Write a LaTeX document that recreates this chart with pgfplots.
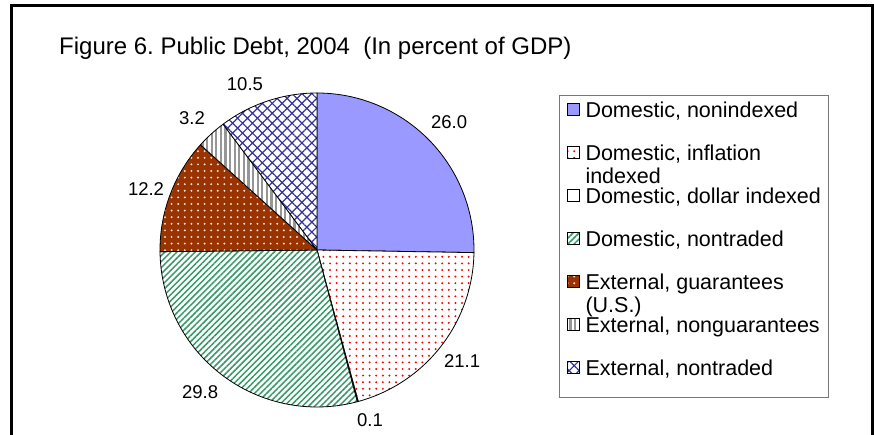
\documentclass[border=0pt]{standalone}
\usepackage{pgfplots}
\pgfplotsset{compat=1.18}
\usepackage{pgfplotstable}
\usetikzlibrary{patterns.meta}
\usepackage{fontspec}
\setmainfont{Liberation Sans}
\frenchspacing
\definecolor{cA}{HTML}{9999FF}
\definecolor{cRed}{HTML}{FF0000}
\definecolor{cGreen}{HTML}{339966}
\definecolor{cBrown}{HTML}{993300}
\definecolor{cGray}{HTML}{969696}
\definecolor{cBlue}{HTML}{333399}
\tikzset{
 w0/.style={fill=cA},
 w1/.style={fill=white, postaction={pattern={Dots[distance=6.6bp, radius=1.1bp]}, pattern color=cRed}},
 w2/.style={fill=white},
 w3/.style={fill=white, postaction={pattern={Lines[angle=45, distance=4.3bp, line width=1.5bp]}, pattern color=cGreen}},
 w4/.style={fill=cBrown, postaction={pattern={Dots[distance=6.6bp, radius=1.1bp]}, pattern color=white!85!cBrown}},
 w5/.style={fill=white, postaction={pattern={Lines[angle=90, distance=4.6bp, line width=2.2bp]}, pattern color=cGray}},
 w6/.style={fill=white, postaction={pattern={Hatch[angle=45, distance=7bp, line width=1.2bp]}, pattern color=cBlue}},
}
\newcommand\legimg[1]{\addlegendimage{legend image code/.code={\path (0bp,0bp) (23bp,0bp); \fill[#1] (5bp,2bp) rectangle (17bp,14bp); \draw[line width=0.6bp] (5bp,2bp) rectangle (17bp,14bp);}}}
\newcommand\legtxt[1]{\makebox[241bp][l]{#1}}
\pgfplotstableread{
value lx ly
26.0 0.841 0.815
21.1 0.924 -0.707
0.1 0.338 -1.083
29.8 -0.745 -0.904
12.2 -1.089 0.389
3.2 -0.796 0.841
10.5 -0.459 1.057
}\debt
\begin{document}
\begin{tikzpicture}
\useasboundingbox (0,0) rectangle (874bp,435bp);
\gdef\total{0}
\foreach \i in {0,...,6}{%
  \pgfplotstablegetelem{\i}{value}\of\debt
  \pgfmathsetmacro\tmp{\total+\pgfplotsretval}%
  \xdef\total{\tmp}%
}
\gdef\ang{90}
\foreach \i in {0,...,6}{%
  \pgfplotstablegetelem{\i}{value}\of\debt
  \expandafter\xdef\csname val\i\endcsname{\pgfplotsretval}%
  \pgfmathsetmacro\tmp{\ang-\pgfplotsretval/\total*360}%
  \expandafter\xdef\csname sa\i\endcsname{\ang}%
  \expandafter\xdef\csname ea\i\endcsname{\tmp}%
  \xdef\ang{\tmp}%
  \pgfplotstablegetelem{\i}{lx}\of\debt
  \expandafter\xdef\csname lx\i\endcsname{\pgfplotsretval}%
  \pgfplotstablegetelem{\i}{ly}\of\debt
  \expandafter\xdef\csname ly\i\endcsname{\pgfplotsretval}%
}
% frame
\draw[line width=3bp] (11.5bp,-10bp) -- (11.5bp,429.5bp) -- (872.5bp,429.5bp) -- (872.5bp,-10bp);
% title
\node[anchor=base west, inner sep=0pt, font=\fontsize{24bp}{27bp}\selectfont] at (59bp,380bp) {Figure 6. Public Debt, 2004\ \ (In percent of GDP)};
\begin{axis}[
  at={(317bp,185bp)}, anchor=origin,
  scale only axis, width=314bp, height=314bp,
  xmin=-1, xmax=1, ymin=-1, ymax=1,
  hide axis, clip=false,
  legend style={at={(1.2707,0.9936)}, anchor=north west, draw=cGray!80!black, line width=1bp, fill=white,
    inner sep=2bp, row sep=3bp, column sep=0pt,
    nodes={inner sep=0pt, text height=19.5bp, text depth=20.5bp},
    font=\fontsize{21.5bp}{23bp}\selectfont},
  legend cell align=left,
]
\pgfplotsinvokeforeach{0,...,6}{
  \fill[w#1] (axis cs:0,0) -- ++(\csname sa#1\endcsname:157bp) arc[start angle=\csname sa#1\endcsname, end angle=\csname ea#1\endcsname, radius=157bp] -- cycle;
  \draw[line width=0.8bp, line join=round] (axis cs:0,0) -- ++(\csname sa#1\endcsname:157bp) arc[start angle=\csname sa#1\endcsname, end angle=\csname ea#1\endcsname, radius=157bp] -- cycle;
  \node[font=\fontsize{18.5bp}{21bp}\selectfont] at (axis cs:\csname lx#1\endcsname,\csname ly#1\endcsname) {\pgfmathprintnumber[fixed, fixed zerofill, precision=1, assume math mode=true]{\csname val#1\endcsname}};
}
\legimg{w0}\addlegendentry{\legtxt{Domestic, nonindexed}}
\legimg{w1}\addlegendentry{\legtxt{\vtop{\hbox{Domestic, inflation}\hbox{indexed}}}}
\legimg{w2}\addlegendentry{\legtxt{Domestic, dollar indexed}}
\legimg{w3}\addlegendentry{\legtxt{Domestic, nontraded}}
\legimg{w4}\addlegendentry{\legtxt{\vtop{\hbox{External, guarantees}\hbox{(U.S.)}}}}
\legimg{w5}\addlegendentry{\legtxt{External, nonguarantees}}
\legimg{w6}\addlegendentry{\legtxt{External, nontraded}}
\end{axis}
\end{tikzpicture}
\end{document}
